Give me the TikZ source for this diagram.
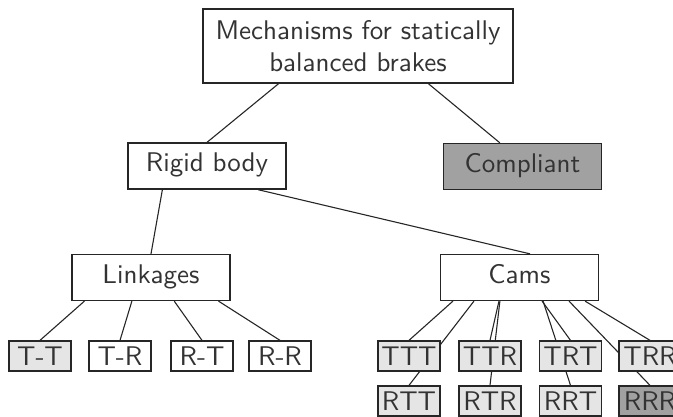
\documentclass[tikz,border=0pt]{standalone}
\usepackage{fontspec}
\newfontfamily\tensans{lmsans10-regular}[Extension=.otf]
\usetikzlibrary{calc,backgrounds}
\begin{document}
\begin{tikzpicture}[x=1pt,y=-1pt,
  box/.style={draw=black!85, line width=1.3pt, fill=white, inner sep=0pt,
    text=black!80, font=\tensans\fontsize{27}{32}\selectfont, align=center},
  bigbox/.style={box, minimum width=310pt, minimum height=74pt},
  midbox/.style={box, minimum width=158pt, minimum height=46pt, text height=19pt, text depth=7pt},
  smallbox/.style={box, minimum width=62pt, minimum height=30pt},
  lightbox/.style={fill=black!10},
  darkbox/.style={fill=black!37},
  edge/.style={draw=black!85, line width=1.1pt}]
\clip (0,0) rectangle (673,417);
% nodes
\node[bigbox] (top) at (358,46) {Mechanisms for statically\\balanced brakes};
\node[midbox] (rigid) at (207,166) {Rigid body};
\node[midbox, darkbox] (compliant) at (522.5,166.5) {Compliant};
\node[midbox] (linkages) at (151,277.5) {Linkages};
\node[midbox] (cams) at (519.5,277.5) {Cams};
\node[smallbox, lightbox] (tt) at (40,356) {T-T};
\node[smallbox] (tr) at (120,356) {T-R};
\node[smallbox] (rt) at (202,356) {R-T};
\node[smallbox] (rr) at (280,356) {R-R};
\node[smallbox, lightbox] (ttt) at (409,356) {TTT};
\node[smallbox, lightbox] (ttr) at (490,356) {TTR};
\node[smallbox, lightbox] (trt) at (570.5,356) {TRT};
\node[smallbox, lightbox] (trr) at (650,356) {TRR};
\node[smallbox, lightbox] (rtt) at (409,401) {RTT};
\node[smallbox, lightbox] (rtr) at (490,401) {RTR};
\node[smallbox, lightbox] (rrt) at (570.5,401) {RRT};
\node[smallbox, darkbox] (rrr) at (650,401) {RRR};
% connectors
\begin{scope}[on background layer]
\draw[edge] ($(top.south west)!0.245!(top.south east)$) -- (rigid.north);
\draw[edge] ($(top.south west)!0.726!(top.south east)$) -- ($(compliant.north west)!0.358!(compliant.north east)$);
\draw[edge] ($(rigid.south west)!0.22!(rigid.south east)$) -- (linkages.north);
\draw[edge] ($(rigid.south west)!0.82!(rigid.south east)$) -- ($(cams.north west)!0.566!(cams.north east)$);
\draw[edge] ($(linkages.south west)!0.082!(linkages.south east)$) -- (tt.north);
\draw[edge] ($(linkages.south west)!0.38!(linkages.south east)$) -- (tr.north);
\draw[edge] ($(linkages.south west)!0.646!(linkages.south east)$) -- (rt.north);
\draw[edge] ($(linkages.south west)!0.924!(linkages.south east)$) -- (rr.north);
\draw[edge] ($(cams.south west)!0.082!(cams.south east)$) -- (ttt.north);
\draw[edge] ($(cams.south west)!0.214!(cams.south east)$) -- (rtt.north);
\draw[edge] ($(cams.south west)!0.371!(cams.south east)$) -- (ttr.north);
\draw[edge] ($(cams.south west)!0.377!(cams.south east)$) -- (rtr.north);
\draw[edge] ($(cams.south west)!0.642!(cams.south east)$) -- (trt.north);
\draw[edge] ($(cams.south west)!0.648!(cams.south east)$) -- (rrt.north);
\draw[edge] ($(cams.south west)!0.912!(cams.south east)$) -- (trr.north);
\draw[edge] ($(cams.south west)!0.811!(cams.south east)$) -- (rrr.north);
\end{scope}
\end{tikzpicture}
\end{document}
